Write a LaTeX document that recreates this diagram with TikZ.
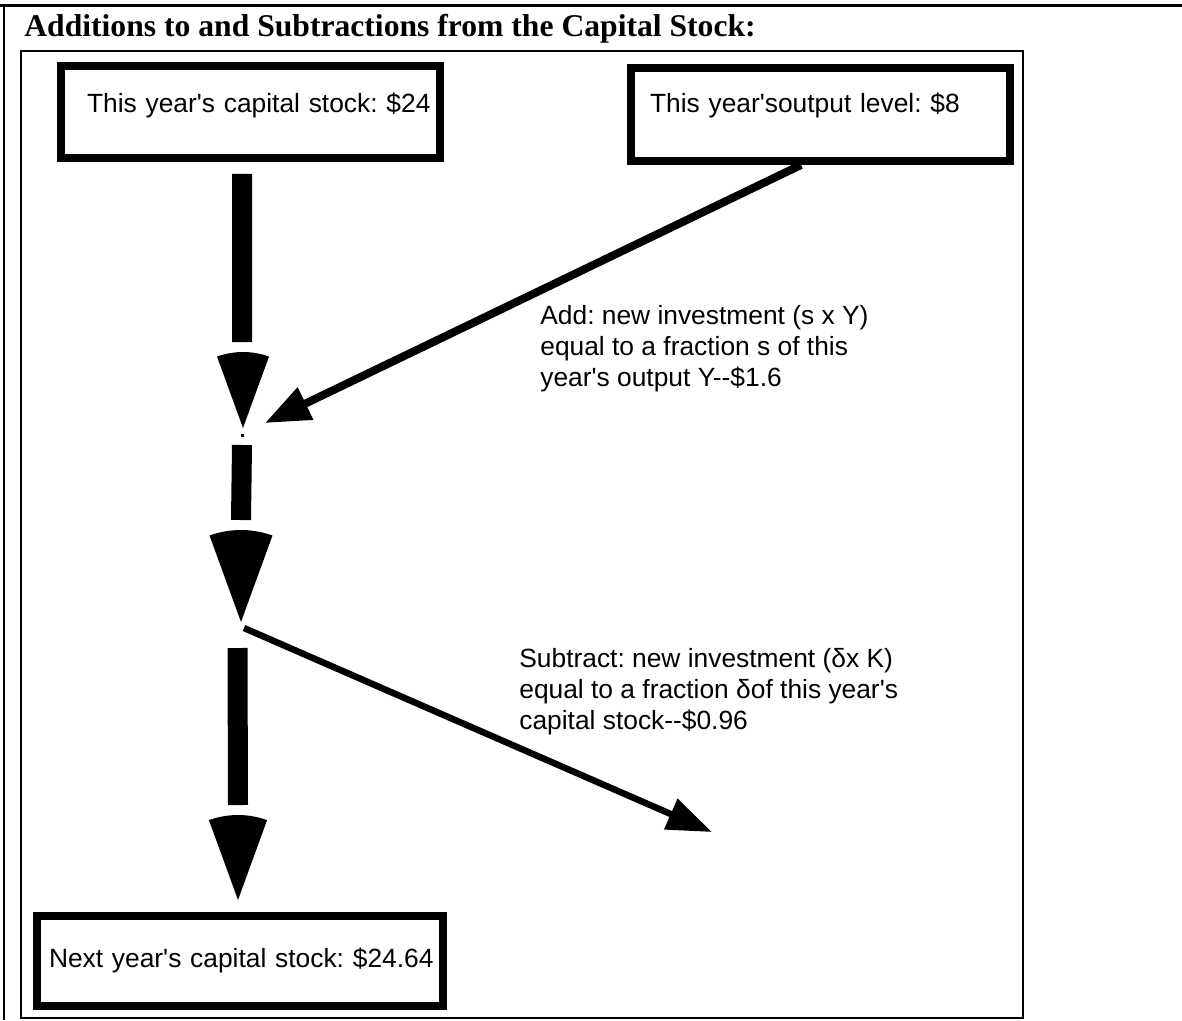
\documentclass[tikz,border=0pt]{standalone}
\usepackage{fontspec}
\setmainfont{Liberation Sans}[Ligatures=TeXOff]
\newfontfamily\headfont{Liberation Serif}
\usepackage{tikz}
\usetikzlibrary{arrows.meta, calc}
\frenchspacing
\definecolor{ink}{RGB}{0, 0, 0}
\tikzset{
    stockbox/.style={draw=ink, line width=4.5pt, fill=white, rectangle,
                     inner xsep=0pt, inner ysep=0pt, align=left,
                     font=\fontsize{15}{18}\selectfont},
    note/.style    ={font=\fontsize{15}{17.6}\selectfont, align=left, inner sep=0pt},
    shaft/.style   ={draw=ink, line width=0.4cm},
    feed/.style    ={-{Triangle[length=0.9cm, width=0.68cm]}, line width=0.16cm, draw=ink},
    drain/.style   ={-{Triangle[length=0.9cm, width=0.64cm]}, line width=0.13cm, draw=ink},
    rule/.style    ={draw=ink, line width=1.6pt}
}
\newcommand{\wedgetip}[2]{%
  \fill[ink] (#1) -- ++(70:#2) arc[start angle=70, end angle=110, radius=#2] -- cycle;}

\begin{document}
\begin{tikzpicture}[x=1cm, y=1cm]
  \useasboundingbox (0,0) rectangle (23.64,-20.4);

  % page rules and frame
  \draw[rule] (0,-0.11) -- (23.64,-0.11);
  \draw[rule] (0.08,-0.11) -- (0.08,-20.4);
  \draw[rule, line width=1.4pt] (0.42,-1.02) rectangle (20.46,-20.36);
  \node[anchor=base west, inner sep=0pt,
        font=\headfont\fontsize{18}{22}\selectfont\bfseries] (title) at (0.48,-0.72)
        {Additions to and Subtractions from the Capital Stock:};

  \node[stockbox, text width=7.58cm, minimum height=1.84cm,
        text height=0.3cm, text depth=0.3cm] (cap) at (5.01,-2.24)
        {\hspace*{0.52cm}This year's capital stock: \$24};
  \node[stockbox, text width=7.58cm, minimum height=1.86cm,
        text height=0.3cm, text depth=0.4cm] (out) at (16.41,-2.29)
        {\hspace*{0.38cm}This year'soutput level: \$8};
  \node[stockbox, text width=8.12cm, minimum height=1.8cm,
        text height=0.45cm, text depth=0.21cm] (next) at (4.8,-19.22)
        {\hspace*{0.24cm}Next year's capital stock: \$24.64};

  \node[fill=ink, inner sep=0pt, minimum size=0.06cm] (sum) at (4.84,-8.70) {};
  \coordinate (tipA) at (4.86,-8.56);
  \coordinate (tipB) at (4.82,-12.44);
  \coordinate (tipC) at (4.76,-18.0);
  \coordinate (addin) at (5.3,-8.46);
  \coordinate (loss) at (14.24,-16.64);

  % main flow
  \draw[shaft] ($(cap.south)+(-0.17,-0.24)$) -- ($(tipA)+(-0.02,1.72)$);
  \wedgetip{tipA}{1.52}
  \draw[shaft] ($(sum)+(0,-0.2)$) -- ($(tipB)+(0,2.04)$);
  \wedgetip{tipB}{1.84}
  \draw[shaft] ($(tipB)+(-0.07,-0.52)$) -- ($(tipC)+(0,1.9)$);
  \wedgetip{tipC}{1.7}

  % in and out
  \draw[feed] ($(out.south)+(-0.39,0)$) -- (addin);
  \draw[drain] ($(tipB)+(0.06,-0.12)$) -- (loss);

  \node[note, anchor=base west] (addnote) at (10.8,-7.72)
        {Add: new investment (s x Y)\\equal to a fraction s of this\\year's output Y--\$1.6};
  \node[note, anchor=base west] (subnote) at (10.38,-14.58)
        {Subtract: new investment (δx K)\\equal to a fraction δof this year's\\capital stock--\$0.96};
\end{tikzpicture}
\end{document}
